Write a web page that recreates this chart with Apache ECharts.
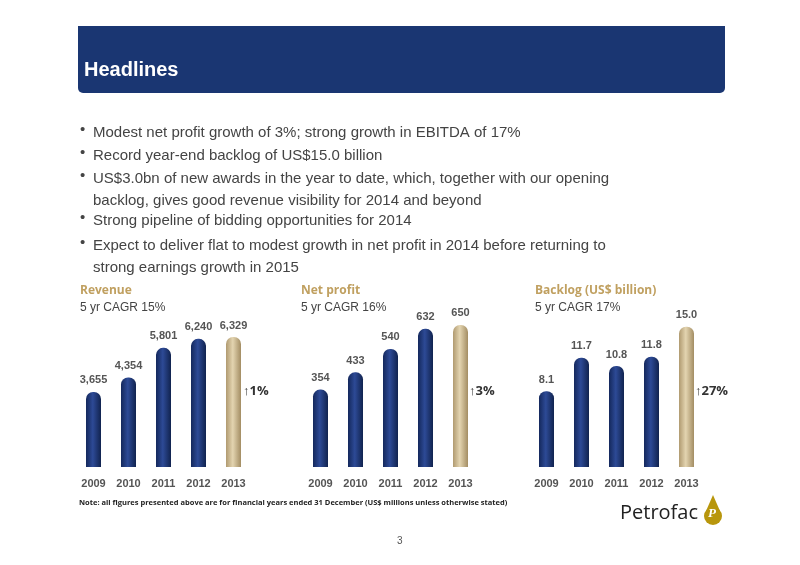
<!DOCTYPE html>
<html>
<head>
<meta charset="utf-8">
<script src="https://cdn.jsdelivr.net/npm/echarts@6/dist/echarts.min.js"></script>
<style>
  html, body { margin: 0; padding: 0; background: #fff; }
  #main { width: 800px; height: 565px; }
</style>
</head>
<body>
<div id="main"></div>
<script>
var years = ['2009', '2010', '2011', '2012', '2013']
var revenue = [3655, 4354, 5801, 6240, 6329]
var netProfit = [354, 433, 540, 632, 650]
var backlog = [8.1, 11.7, 10.8, 11.8, 15.0]
var bullets = [
    'Modest net profit growth of 3%; strong growth in EBITDA of 17%',
    'Record year-end backlog of US$15.0 billion',
    'US$3.0bn of new awards in the year to date, which, together with our opening\nbacklog, gives good revenue visibility for 2014 and beyond',
    'Strong pipeline of bidding opportunities for 2014',
    'Expect to deliver flat to modest growth in net profit in 2014 before returning to\nstrong earnings growth in 2015'
]
var bulletY = [131, 154, 177, 219, 244]

var chart = echarts.init(document.getElementById('main'))

var navy = new echarts.graphic.LinearGradient(0, 0, 1, 0, [
    {offset: 0, color: '#14285c'}, {offset: 0.45, color: '#2d4a96'}, {offset: 1, color: '#11234f'}
])
var tan = new echarts.graphic.LinearGradient(0, 0, 1, 0, [
    {offset: 0, color: '#b09a70'}, {offset: 0.45, color: '#e3d4b0'}, {offset: 1, color: '#a38d63'}
])

function barData(vals) {
    return vals.map(function (v, i) {
        return {value: v, itemStyle: {color: i === vals.length - 1 ? tan : navy}}
    })
}

var lefts = [76, 303, 529]
var maxes = [9737, 915, 21.4]
var sets = [revenue, netProfit, backlog]
var grids = [], xAxes = [], yAxes = [], series = []
sets.forEach(function (vals, k) {
    grids.push({left: lefts[k], width: 175, top: 267, height: 200})
    xAxes.push({
        type: 'category', gridIndex: k, data: years,
        axisLine: {show: false}, axisTick: {show: false},
        axisLabel: {color: '#555', fontWeight: 'bold', fontSize: 11, margin: 11, fontFamily: 'Liberation Sans'}
    })
    yAxes.push({type: 'value', gridIndex: k, min: 0, max: maxes[k], show: false})
    series.push({
        type: 'bar', xAxisIndex: k, yAxisIndex: k, barWidth: 15,
        data: barData(vals),
        itemStyle: {borderRadius: [7, 7, 0, 0]},
        label: {
            show: true, position: 'top', distance: 6, color: '#555', fontWeight: 'bold',
            fontSize: 11, fontFamily: 'Liberation Sans',
            formatter: function (p) {
                return k === 2 ? p.value.toFixed(1) : p.value.toLocaleString('en-US')
            }
        }
    })
})

var graphic = [
    {type: 'rect', shape: {x: 78, y: 26, width: 647, height: 67, r: [0, 0, 5, 5]}, style: {fill: '#1a3672'}},
    {type: 'text', x: 84, y: 60, style: {text: 'Headlines', fill: '#fff', font: 'bold 20px Liberation Sans'}}
]
bullets.forEach(function (b, i) {
    graphic.push({type: 'text', x: 80, y: bulletY[i] - 9, style: {text: '•', fill: '#444', font: '15px Liberation Sans'}})
    graphic.push({type: 'text', x: 93, y: bulletY[i] - 9, style: {text: b, fill: '#444', font: '15px Liberation Sans', lineHeight: 22}})
})
var titles = ['Revenue', 'Net profit', 'Backlog (US$ billion)']
var cagr = ['5 yr CAGR 15%', '5 yr CAGR 16%', '5 yr CAGR 17%']
var titleX = [80, 301, 535]
var arrows = ['↑1%', '↑3%', '↑27%']
var arrowX = [243, 469, 695]
for (var i = 0; i < 3; i++) {
    graphic.push({type: 'text', x: titleX[i], y: 285, style: {text: titles[i], fill: '#c0a060', font: 'bold 12px Open Sans'}})
    graphic.push({type: 'text', x: titleX[i], y: 302, style: {text: cagr[i], fill: '#444', font: '12px Liberation Sans'}})
    graphic.push({type: 'text', x: arrowX[i], y: 385, style: {text: arrows[i], fill: '#333', font: 'bold 13px Open Sans'}})
}
graphic.push({type: 'text', x: 79, y: 499, style: {text: 'Note: all figures presented above are for financial years ended 31 December (US$ millions unless otherwise stated)', fill: '#222', font: 'bold 7.5px Open Sans'}})
graphic.push({type: 'text', x: 620, y: 503, style: {text: 'Petrofac', fill: '#222', font: '20px Open Sans'}})
graphic.push({type: 'circle', shape: {cx: 713, cy: 516, r: 9}, style: {fill: '#b8960c'}})
graphic.push({type: 'polygon', shape: {points: [[706, 511], [713, 495], [720, 511]]}, style: {fill: '#b8960c'}})
graphic.push({type: 'text', x: 708, y: 507, style: {text: 'P', fill: '#fff', font: 'bold italic 13px Liberation Serif'}})
graphic.push({type: 'text', x: 397, y: 536, style: {text: '3', fill: '#555', font: '10px Liberation Sans'}})

chart.setOption({
    animation: false,
    grid: grids,
    xAxis: xAxes,
    yAxis: yAxes,
    series: series,
    graphic: graphic
})
</script>
</body>
</html>
